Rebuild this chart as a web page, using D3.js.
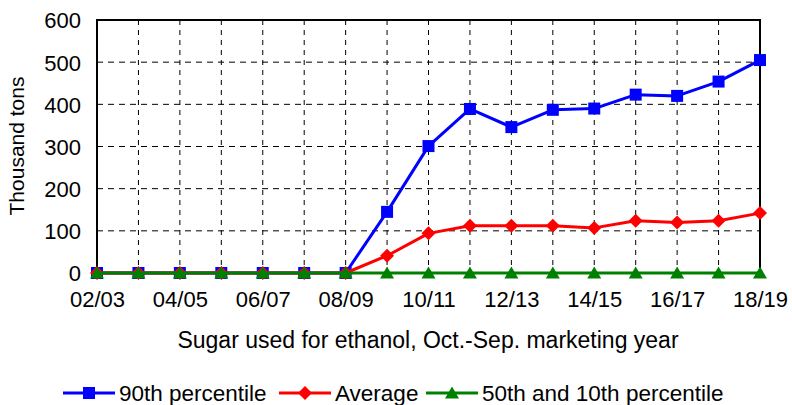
<!DOCTYPE html>
<html>
<head>
<meta charset="utf-8">
<script src="https://cdn.jsdelivr.net/npm/d3@7"></script>
<style>
html,body{margin:0;padding:0;background:#fff;}
svg text{font-family:"Liberation Sans",Arial,sans-serif;fill:#000;}
</style>
</head>
<body>
<svg id="chart" width="792" height="405"></svg>
<script>
const categories = ["02/03","03/04","04/05","05/06","06/07","07/08","08/09","09/10","10/11","11/12","12/13","13/14","14/15","15/16","16/17","17/18","18/19"];
const xTickLabels = ["02/03","04/05","06/07","08/09","10/11","12/13","14/15","16/17","18/19"];
const yTicks = [0,100,200,300,400,500,600];
const p90 = [0,0,0,0,0,0,0,145,301,389,346,387,390,423,420,454,505];
const avg = [0,0,0,0,0,0,0,41,94,112,112,112,107,124,120,124,142];
const p50p10 = [0,0,0,0,0,0,0,0,0,0,0,0,0,0,0,0,0];
const seriesNames = ["90th percentile","Average","50th and 10th percentile"];
const seriesColors = ["#0000FF","#FF0000","#008000"];
const seriesShapes = ["square","diamond","triangle"];
const yTitle = "Thousand tons";
const xTitle = "Sugar used for ethanol, Oct.-Sep. marketing year";

const svg = d3.select("#chart");
const L = 97, R = 760, T = 20, B = 273;
const x = d3.scalePoint().domain(categories).range([L, R]);
const y = d3.scaleLinear().domain([0, 600]).range([B, T]);

// gridlines
const g = svg.append("g");
g.selectAll("line.hg").data(yTicks.filter(v => v > 0 && v < 600)).enter().append("line")
  .attr("x1", L).attr("x2", R).attr("y1", d => y(d)).attr("y2", d => y(d))
  .attr("stroke", "#000").attr("stroke-width", 1).attr("stroke-dasharray", "6,5");
g.selectAll("line.vg").data(categories.slice(1, -1)).enter().append("line")
  .attr("x1", d => x(d)).attr("x2", d => x(d)).attr("y1", T).attr("y2", B)
  .attr("stroke", "#000").attr("stroke-width", 1).attr("stroke-dasharray", "5,5");

// frame
svg.append("rect").attr("x", L).attr("y", T).attr("width", R - L).attr("height", B - T)
  .attr("fill", "none").attr("stroke", "#000").attr("stroke-width", 2);

// y axis
const yAxis = svg.append("g").attr("transform", `translate(${L},0)`)
  .call(d3.axisLeft(y).tickValues(yTicks).tickSize(0).tickPadding(16));
yAxis.select(".domain").remove();
yAxis.selectAll("text").style("font-size", "22px").attr("dy", "0.36em");

// x axis
const xAxis = svg.append("g").attr("transform", `translate(0,${B})`)
  .call(d3.axisBottom(x).tickValues(xTickLabels).tickSize(0).tickPadding(18));
xAxis.select(".domain").remove();
xAxis.selectAll("text").style("font-size", "22px").attr("dy", "0.71em");

// titles
svg.append("text").attr("transform", `translate(24,${(80 + 212) / 2}) rotate(-90)`)
  .attr("text-anchor", "middle").style("font-size", "21px").text(yTitle);
svg.append("text").attr("x", 428).attr("y", 348).attr("text-anchor", "middle")
  .style("font-size", "23px").text(xTitle);

function marker(sel, shape, color) {
  if (shape === "square") {
    sel.append("rect").attr("x", -6).attr("y", -6).attr("width", 12).attr("height", 12).attr("fill", color);
  } else if (shape === "diamond") {
    sel.append("path").attr("d", "M0,-7L7,0L0,7L-7,0Z").attr("fill", color);
  } else {
    sel.append("path").attr("d", "M0,-6.5L7,5.5L-7,5.5Z").attr("fill", color);
  }
}

const allSeries = [p90, avg, p50p10];
allSeries.forEach((vals, i) => {
  const data = vals.map((v, j) => ({c: categories[j], v}));
  svg.append("path").datum(data)
    .attr("fill", "none").attr("stroke", seriesColors[i]).attr("stroke-width", 3)
    .attr("stroke-linejoin", "round")
    .attr("d", d3.line().x(d => x(d.c)).y(d => y(d.v)));
  svg.append("g").selectAll("g").data(data).enter().append("g")
    .attr("transform", d => `translate(${x(d.c)},${y(d.v)})`)
    .each(function () { marker(d3.select(this), seriesShapes[i], seriesColors[i]); });
});

// legend
const legendX = [63, 279, 426];
const legendY = 393;
seriesNames.forEach((name, i) => {
  const lg = svg.append("g").attr("transform", `translate(${legendX[i]},${legendY})`);
  lg.append("line").attr("x1", 0).attr("x2", 52).attr("y1", 0).attr("y2", 0)
    .attr("stroke", seriesColors[i]).attr("stroke-width", 3);
  const m = lg.append("g").attr("transform", "translate(26,0)");
  marker(m, seriesShapes[i], seriesColors[i]);
  lg.append("text").attr("x", 56).attr("y", 8).style("font-size", "22.5px").text(name);
});
</script>
</body>
</html>
